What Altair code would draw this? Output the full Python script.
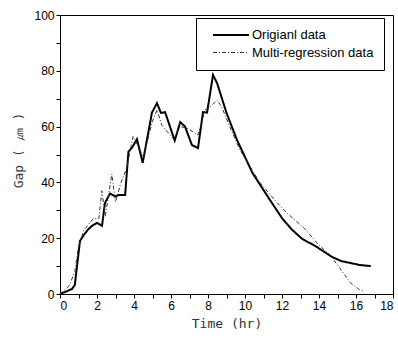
import altair as alt
import pandas as pd

# Original data (time in hr, gap in um)
orig_t = [0, 0.3, 0.65, 0.8, 1.08, 1.25, 1.5, 1.73, 2.0, 2.27, 2.43, 2.7, 2.97, 3.2, 3.52,
          3.7, 3.9, 4.16, 4.47, 4.97, 5.24, 5.46, 5.68, 6.2, 6.5, 6.76, 7.13, 7.46, 7.73,
          7.95, 8.27, 8.49, 9.0, 9.57, 10.4, 11.35, 12.0, 12.5, 13.1, 13.8, 14.7, 15.2,
          16.2, 16.8]
orig_y = [0, 0.8, 1.8, 3.2, 19, 20.8, 23, 24.4, 25.5, 24.4, 32.6, 36, 35, 35.5, 35.5,
          51, 52.5, 55.5, 47, 65, 68.4, 64.9, 65.2, 55, 61.6, 60, 53.4, 52.3, 65.2,
          65, 78.5, 75.6, 64.9, 55.2, 43.4, 33.7, 27.2, 23.3, 19.7, 17.2, 13.3, 11.8,
          10.4, 10.0]

# Multi-regression data
reg_t = [0, 0.5, 0.8, 1.0, 1.3, 1.8, 2.1, 2.26, 2.45, 2.8, 3.0, 3.3, 3.6, 3.95, 4.3, 4.5,
         5.0, 5.25, 5.5, 6.15, 6.5, 6.86, 7.46, 7.84, 8.1, 8.5, 8.76, 9.3, 9.73, 10.8,
         11.7, 12.27, 13.2, 14.0, 14.6, 15.1, 15.7, 16.2, 16.4]
reg_y = [0, 3, 8, 17, 23, 27, 27, 37, 28, 43, 33, 40, 45, 56.5, 52, 49,
         62, 66, 60.5, 55.5, 60, 59.5, 57, 66, 67, 69.5, 66.7, 58, 51.6, 40,
         33, 29, 23.6, 17.5, 14, 9.5, 4, 1.5, 1]

series_names = ["Origianl data", "Multi-regression data"]

df = pd.concat([
    pd.DataFrame({"t": orig_t, "y": orig_y, "s": series_names[0], "o": range(len(orig_t))}),
    pd.DataFrame({"t": reg_t, "y": reg_y, "s": series_names[1], "o": range(len(reg_t))}),
])

x_ticks = list(range(0, 19))
y_ticks = list(range(0, 101, 10))

legend = alt.Legend(
    title=None,
    orient="none",
    legendX=136,
    legendY=3,
    strokeColor="black",
    padding=10,
    symbolType="M0,0H6",
    symbolSize=144,
    labelOffset=32,
    labelFont="Liberation Sans",
    labelFontSize=13,
    labelColor="black",
    rowPadding=4,
)

chart = alt.Chart(df).mark_line().encode(
    x=alt.X("t:Q", scale=alt.Scale(domain=[0, 18], nice=False),
            axis=alt.Axis(values=x_ticks, title="Time (hr)",
                          labelExpr="datum.value % 2 == 0 ? datum.label : ''")),
    y=alt.Y("y:Q", scale=alt.Scale(domain=[0, 100], nice=False),
            axis=alt.Axis(values=y_ticks, title="Gap ( ㎛ )", titleY=135,
                          labelExpr="datum.value % 20 == 0 ? datum.label : ''")),
    order="o:Q",
    color=alt.Color("s:N", scale=alt.Scale(domain=series_names, range=["black", "#333333"]), legend=legend),
    strokeDash=alt.StrokeDash("s:N", scale=alt.Scale(domain=series_names, range=[[1, 0], [4, 2, 1, 2]]), legend=legend),
    strokeWidth=alt.StrokeWidth("s:N", scale=alt.Scale(domain=series_names, range=[2, 1]), legend=legend),
).properties(
    width=333, height=279,
    autosize=alt.AutoSizeParams(type="none"),
    padding={"left": 60, "top": 15, "right": 5, "bottom": 48},
).configure_view(
    stroke="black", strokeWidth=1
).configure_axis(
    grid=False,
    domainColor="black",
    tickColor="black",
    tickSize=4,
    labelFont="Liberation Sans",
    labelFontSize=12,
    labelColor="black",
    labelPadding=2,
    labelOverlap=False,
    titleFont="DejaVu Sans Mono",
    titleFontSize=13,
    titleFontWeight="normal",
    titleColor="#333333",
).configure_axisX(
    titlePadding=6
).configure_axisY(
    titlePadding=8
)

chart.save("out.html", embed_options={"renderer": "svg", "actions": False})
